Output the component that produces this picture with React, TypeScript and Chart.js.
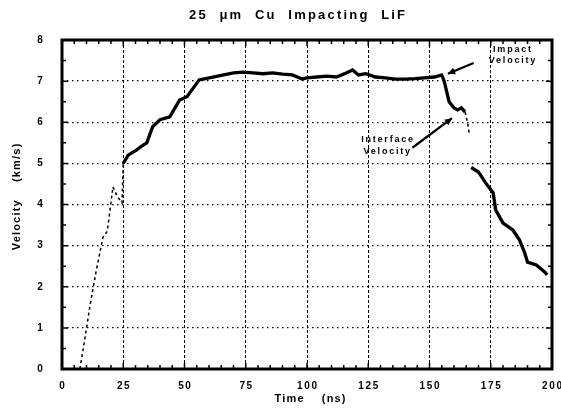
import React, { useEffect, useRef } from "react";
import { Chart, registerables } from "chart.js";

Chart.register(...registerables);

const chartTitle = "25  μm  Cu  Impacting  LiF";
const xAxisTitle = "Time    (ns)";
const yAxisTitle = "Velocity    (km/s)";

const xMin = 0;
const xMax = 200;
const xStep = 25;
const yMin = 0;
const yMax = 8;
const yStep = 1;

// Time (ns) and velocity (km/s); null = gap in the record
const times = [
  7.3, 9.5, 11.4, 14, 16.7, 18.5, 20.8, 22.5, 24.5, 25, 27, 30.5, 32.5, 34.6, 37, 40, 44, 48, 51,
  56, 61.6, 66, 70, 74, 78, 82, 86, 90, 94, 98, 100, 104, 108, 112, 116, 118.6, 121, 124, 128,
  132, 136, 140, 144, 148, 152, 155, 156, 157, 158, 160, 161.5, 163, 164.5, 165.5, 166.3, 166.6,
  167, 170, 173, 176, 177, 180, 184, 186.7, 188.7, 190, 193.6, 197, 198,
];
const velocities: (number | null)[] = [
  0, 0.8, 1.53, 2.4, 3.2, 3.35, 4.43, 4.2, 4.04, 5.0, 5.2, 5.33, 5.42, 5.5, 5.89, 6.06, 6.13,
  6.54, 6.62, 7.03, 7.1, 7.15, 7.2, 7.22, 7.2, 7.18, 7.2, 7.17, 7.15, 7.05, 7.08, 7.1, 7.12,
  7.1, 7.2, 7.27, 7.15, 7.18, 7.1, 7.08, 7.05, 7.05, 7.06, 7.08, 7.1, 7.15, 7.0, 6.75, 6.5,
  6.35, 6.3, 6.35, 6.25, 6.0, 5.7, null, 4.9, 4.79, 4.52, 4.28, 3.87, 3.55, 3.38, 3.14, 2.85,
  2.6, 2.53, 2.36, 2.29,
];

// Annotations: text lines, anchor in data coords, arrow from -> to (data coords)
const impactLines = ["Impact", "Velocity"];
const impactTextAt = [183.7, 7.76];
const impactArrow = [168, 7.44, 157.5, 7.18];
const interfaceLines = ["Interface", "Velocity"];
const interfaceTextAt = [143.3, 5.57];
const interfaceArrow = [143, 5.38, 159.2, 6.1];

const FONT = "'Liberation Sans', Arial, sans-serif";

function spacedText(ctx: CanvasRenderingContext2D, text: string, x: number, y: number, spacing: number, align: "center" | "right" | "left") {
  ctx.letterSpacing = spacing + "px";
  ctx.textAlign = align;
  let dx = 0;
  if (align === "center") dx = spacing / 2;
  if (align === "right") dx = spacing;
  ctx.fillText(text, x + dx, y);
  ctx.letterSpacing = "0px";
}

function arrow(ctx: CanvasRenderingContext2D, x1: number, y1: number, x2: number, y2: number) {
  ctx.beginPath();
  ctx.moveTo(x1, y1);
  ctx.lineTo(x2, y2);
  ctx.lineWidth = 2.2;
  ctx.stroke();
  const a = Math.atan2(y2 - y1, x2 - x1);
  const L = 8;
  ctx.beginPath();
  ctx.moveTo(x2, y2);
  ctx.lineTo(x2 - L * Math.cos(a - 0.45), y2 - L * Math.sin(a - 0.45));
  ctx.lineTo(x2 - L * Math.cos(a + 0.45), y2 - L * Math.sin(a + 0.45));
  ctx.closePath();
  ctx.fill();
}

const decor = {
  id: "decor",
  afterDraw(chart: any) {
    const ctx: CanvasRenderingContext2D = chart.ctx;
    const { left, right, top, bottom } = chart.chartArea;
    const xs = chart.scales.x;
    const ys = chart.scales.y;
    ctx.save();
    ctx.fillStyle = "#000";
    ctx.strokeStyle = "#000";

    // minor ticks
    ctx.lineWidth = 1.5;
    ctx.beginPath();
    for (let v = xMin; v <= xMax; v += 5) {
      const px = xs.getPixelForValue(v);
      const len = v % 25 === 0 ? 6 : 4;
      ctx.moveTo(px, top);
      ctx.lineTo(px, top + len);
      ctx.moveTo(px, bottom);
      ctx.lineTo(px, bottom - len);
    }
    for (let v = yMin; v <= yMax; v += 0.5) {
      const py = ys.getPixelForValue(v);
      const len = v % 1 === 0 ? 6 : 4;
      ctx.moveTo(left, py);
      ctx.lineTo(left + len, py);
      ctx.moveTo(right, py);
      ctx.lineTo(right - len, py);
    }
    ctx.stroke();

    // frame
    ctx.lineWidth = 3;
    ctx.strokeRect(left, top, right - left, bottom - top);

    // tick labels
    ctx.textBaseline = "middle";
    ctx.font = "bold 10px " + FONT;
    xs.ticks.forEach((t: any) => {
      spacedText(ctx, String(t.value), xs.getPixelForValue(t.value), 386, 1.6, "center");
    });
    ys.ticks.forEach((t: any) => {
      spacedText(ctx, String(t.value), 40, ys.getPixelForValue(t.value), 0, "center");
    });

    // title
    ctx.font = "bold 13px " + FONT;
    spacedText(ctx, chartTitle, 297, 15, 2.2, "center");

    // axis titles
    ctx.font = "bold 11px " + FONT;
    spacedText(ctx, xAxisTitle, 310, 399, 1.2, "center");
    ctx.save();
    ctx.translate(17, 197);
    ctx.rotate(-Math.PI / 2);
    spacedText(ctx, yAxisTitle, 0, 0, 1.2, "center");
    ctx.restore();

    // annotations
    ctx.font = "bold 9px " + FONT;
    const ix = xs.getPixelForValue(impactTextAt[0]);
    const iy = ys.getPixelForValue(impactTextAt[1]);
    impactLines.forEach((s, i) => spacedText(ctx, s, ix, iy + i * 11, 1.8, "center"));
    arrow(ctx, xs.getPixelForValue(impactArrow[0]), ys.getPixelForValue(impactArrow[1]), xs.getPixelForValue(impactArrow[2]), ys.getPixelForValue(impactArrow[3]));

    const fx = xs.getPixelForValue(interfaceTextAt[0]);
    const fy = ys.getPixelForValue(interfaceTextAt[1]);
    spacedText(ctx, interfaceLines[0], fx, fy, 1.8, "right");
    spacedText(ctx, interfaceLines[1], fx - 3, fy + 12, 1.8, "right");
    arrow(ctx, xs.getPixelForValue(interfaceArrow[0]), ys.getPixelForValue(interfaceArrow[1]), xs.getPixelForValue(interfaceArrow[2]), ys.getPixelForValue(interfaceArrow[3]));

    ctx.restore();
  },
};

export default function App() {
  const ref = useRef<HTMLCanvasElement | null>(null);
  useEffect(() => {
    if (!ref.current) return;
    const data = times.map((t, i) => ({ x: t, y: velocities[i] }));
    const thin = (ctx: any) => {
      const x0 = ctx.p0.parsed.x;
      return x0 < 24.8 || (x0 >= 164.4 && x0 < 166.8);
    };
    const chart = new Chart(ref.current, {
      type: "line",
      data: {
        datasets: [
          {
            data: data as any,
            borderColor: "#000",
            borderWidth: 3,
            pointRadius: 0,
            tension: 0,
            spanGaps: false,
            segment: {
              borderWidth: (ctx: any) => (thin(ctx) ? 1.5 : 3.3),
              borderDash: (ctx: any) => (thin(ctx) ? [3, 3] : []),
            },
          },
        ],
      },
      plugins: [decor],
      options: {
        animation: false,
        responsive: false,
        maintainAspectRatio: false,
        layout: { padding: { top: 40, right: 9, left: 0, bottom: 0 } },
        plugins: { legend: { display: false }, tooltip: { enabled: false }, title: { display: false } },
        scales: {
          x: {
            type: "linear",
            min: xMin,
            max: xMax,
            ticks: { stepSize: xStep, display: false },
            grid: { color: "#000", lineWidth: 1, drawTicks: false },
            border: { display: false, dash: [3, 2] },
            afterFit: (s: any) => {
              s.height = 40;
            },
          },
          y: {
            min: yMin,
            max: yMax,
            ticks: { stepSize: yStep, display: false },
            grid: { color: "#000", lineWidth: 1.3, drawTicks: false },
            border: { display: false, dash: [1.5, 3.5] },
            afterFit: (s: any) => {
              s.width = 62;
            },
          },
        },
      },
    });
    return () => chart.destroy();
  }, []);
  return (
    <div style={{ position: "fixed", left: 0, top: 0, width: 561, height: 409, background: "#fff" }}>
      <canvas ref={ref} width={561} height={409} style={{ width: 561, height: 409 }} />
    </div>
  );
}
